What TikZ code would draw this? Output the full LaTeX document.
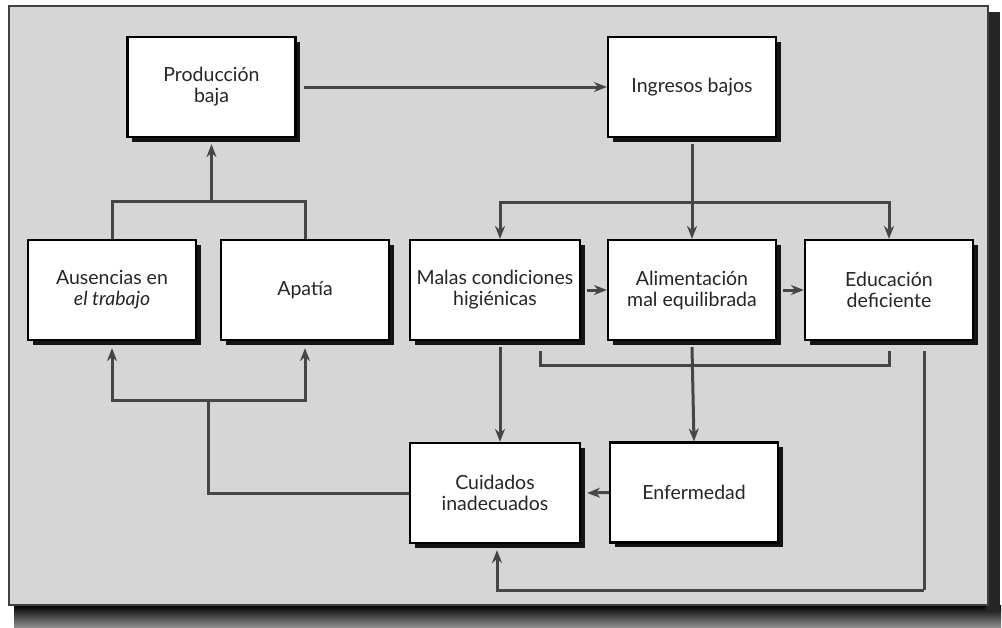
\documentclass[tikz,border=0pt]{standalone}
\usepackage{fontspec}
\setmainfont{Lato}
\usetikzlibrary{arrows.meta,shadows,calc}
\definecolor{bgc}{RGB}{214,214,214}
\definecolor{lnc}{RGB}{70,70,70}
\begin{document}
\begin{tikzpicture}[x=1pt,y=-1pt,
  box/.style={draw=black,line width=2.2pt,fill=white,minimum width=168pt,minimum height=100pt,
    align=center,inner sep=2pt,font=\fontsize{19.5}{21}\selectfont,text=black!85,
    drop shadow={shadow xshift=4.5pt,shadow yshift=-4.5pt,fill=black,opacity=0.9}},
  line/.style={draw=lnc,line width=3pt},
  arr/.style={line,-{Stealth[length=13pt,width=10pt]}}]
\useasboundingbox (0,0) rectangle (1002,627);
% frame and its shadow
\shade[top color=black,bottom color=black!45] (14,605) rectangle (1001,627);
\fill[black!85] (986,12) rectangle (1000,612);
\draw[black!75,line width=1.5pt,fill=bgc] (9,6) rectangle (988,605);
% boxes
\node[box] (prod) at (211.5,87) {Producción\\baja};
\node[box] (ing) at (692,87) {Ingresos bajos};
\node[box] (aus) at (112,290) {Ausencias en\\\textit{el trabajo}};
\node[box] (apa) at (305,290) {Apatía};
\node[box,minimum width=170pt] (mal) at (495,290) {Malas condiciones\\higiénicas};
\node[box] (ali) at (692,290) {Alimentación\\mal equilibrada};
\node[box] (edu) at (889,290) {Educación\\deficiente};
\node[box,minimum width=170pt] (cui) at (495,493) {Cuidados\\inadecuados};
\node[box] (enf) at (694,492.5) {Enfermedad};
% junction points
\coordinate (jI) at (692,202);
\coordinate (jP) at (211.5,201);
\coordinate (jA) at (208,400);
\coordinate (jE) at (692,365);
\coordinate (jC) at (924,590);
% connectors
\draw[arr] ([xshift=7pt]prod.east) -- (ing.west);
\draw[line] ([yshift=-6pt]ing.south) -- (jI);
\draw[arr] (jI) -- (ali.north);
\draw[arr] (jI) -| ([xshift=5pt]mal.north);
\draw[arr] (jI) -| (edu.north);
\draw[line] (aus.north) |- (jP) -| (apa.north);
\draw[arr] (jP) -- ([yshift=-6pt]prod.south);
\draw[line] (cui.west) -| (jA);
\draw[arr] (jA) -| ([yshift=-7pt]aus.south);
\draw[arr] (jA) -| ([yshift=-7pt]apa.south);
\draw[arr] ([xshift=6pt]mal.east) -- (ali.west);
\draw[arr] ([xshift=6pt]ali.east) -- (edu.west);
\draw[arr] ([xshift=5pt,yshift=-6pt]mal.south) -- ([xshift=5pt]cui.north);
\draw[line] ([xshift=45pt,yshift=-10pt]mal.south) |- (jE) -| ([yshift=-10pt]edu.south);
\draw[arr] ([yshift=-6pt]ali.south) -- (enf.north);
\draw[line] ([yshift=-10pt]edu.south -| jC) -- (jC);
\draw[arr] (jC) -| ([xshift=2pt,yshift=-6pt]cui.south);
\draw[arr] (enf.west) -- ([xshift=6pt]cui.east);
\end{tikzpicture}
\end{document}
